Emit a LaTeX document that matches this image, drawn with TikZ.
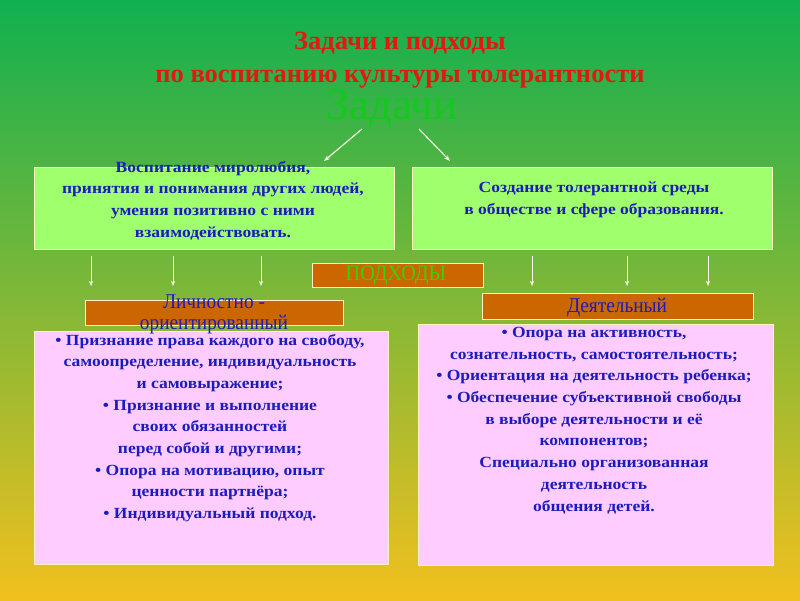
\documentclass[tikz,border=0pt]{standalone}
\usepackage{fontspec}
\setmainfont{Liberation Serif}
\usetikzlibrary{arrows.meta}
\definecolor{bgtop}{RGB}{16,176,80}
\definecolor{bgmid}{RGB}{105,186,62}
\definecolor{bgbot}{RGB}{242,192,30}
\definecolor{titlered}{RGB}{225,25,15}
\definecolor{biggreen}{RGB}{20,200,30}
\definecolor{podgreen}{RGB}{50,215,0}
\definecolor{txtblue}{RGB}{28,28,190}
\definecolor{lgreen}{RGB}{160,255,108}
\definecolor{pinkfill}{RGB}{255,204,255}
\definecolor{orfill}{RGB}{204,102,0}
\definecolor{edgecol}{RGB}{255,240,200}
\begin{document}
\begin{tikzpicture}[x=1pt,y=-1pt,
  gbox/.style={draw=edgecol,line width=1pt,fill=lgreen,inner sep=0pt},
  pbox/.style={draw=edgecol,line width=1pt,fill=pinkfill,inner sep=0pt},
  obox/.style={draw=edgecol,line width=1pt,fill=orfill,inner sep=0pt},
  btext/.style={text=txtblue,font=\fontsize{15.5}{21.7}\selectfont\bfseries,align=center,inner sep=0pt,xscale=1.13},
  otext/.style={text=txtblue,font=\fontsize{21}{21}\selectfont,align=center,inner sep=0pt,xscale=0.92},
  arr/.style={draw=white!92!yellow,line width=1.1pt,-{Stealth[length=6pt,width=4.5pt]}},
  darr/.style={draw=white!92!yellow,line width=0.9pt,-{Stealth[length=5pt,width=4pt]}}]
\useasboundingbox (0,0) rectangle (800,600);
\shade[top color=bgtop,middle color=bgmid,bottom color=bgbot] (0,0) rectangle (800,600);

% title
\node[text=titlered,font=\fontsize{26.5}{33}\selectfont\bfseries,align=center,inner sep=0pt] (title) at (400,60.5)
  {Задачи и подходы\\по воспитанию культуры толерантности};
\node[text=biggreen,font=\fontsize{45}{45}\selectfont,inner sep=0pt] (zad) at (392,109) {Задачи};

% green boxes
\node[gbox,minimum width=360pt,minimum height=82pt] (g1) at (214,208) {};
\node[gbox,minimum width=360pt,minimum height=82pt] (g2) at (592,208) {};
\node[btext] (g1t) at (213,200.5) {Воспитание миролюбия,\\принятия и понимания других людей,\\умения позитивно с ними\\взаимодействовать.};
\node[btext] (g2t) at (594,199.5) {Создание толерантной среды\\в обществе и сфере образования.};

% arrows from title
\coordinate (a1s) at (362,129);
\coordinate (a1e) at (324,161);
\coordinate (a2s) at (419,129);
\coordinate (a2e) at (450,161);
\draw[arr] (a1s) -- (a1e);
\draw[arr] (a2s) -- (a2e);

% approaches label
\node[obox,minimum width=171pt,minimum height=24pt] (pod) at (397.5,275) {};
\node[text=podgreen,font=\fontsize{22}{22}\selectfont,inner sep=0pt,xscale=0.92] (podt) at (396,276) {ПОДХОДЫ};

% down arrows
\foreach \i/\x in {1/91,2/173,3/261,4/532,5/627,6/708}{
  \coordinate (d\i s) at (\x,256);
  \coordinate (d\i e) at (\x,286);
  \draw[darr] (d\i s) -- (d\i e);
}

% orange approach boxes
\node[obox,minimum width=258pt,minimum height=25pt] (lo) at (214,312.5) {};
\node[obox,minimum width=271pt,minimum height=26pt] (de) at (617.5,306) {};

% pink boxes
\node[pbox,minimum width=354pt,minimum height=233pt] (p1) at (211,447.5) {};
\node[pbox,minimum width=355pt,minimum height=241pt] (p2) at (595.5,444.5) {};

\node[otext] (lot) at (214,314) {Личностно -\\ориентированный};
\node[otext] (det) at (617,308) {Деятельный};

\node[btext] (p1t) at (210,428) {• Признание права каждого на свободу,\\самоопределение, индивидуальность\\и самовыражение;\\• Признание и выполнение\\своих обязанностей\\перед собой и другими;\\• Опора на мотивацию, опыт\\ценности партнёра;\\• Индивидуальный подход.};
\node[btext] (p2t) at (594,420.5) {• Опора на активность,\\сознательность, самостоятельность;\\• Ориентация на деятельность ребенка;\\• Обеспечение субъективной свободы\\в выборе деятельности и её\\компонентов;\\Специально организованная\\деятельность\\общения детей.};
\end{tikzpicture}
\end{document}
